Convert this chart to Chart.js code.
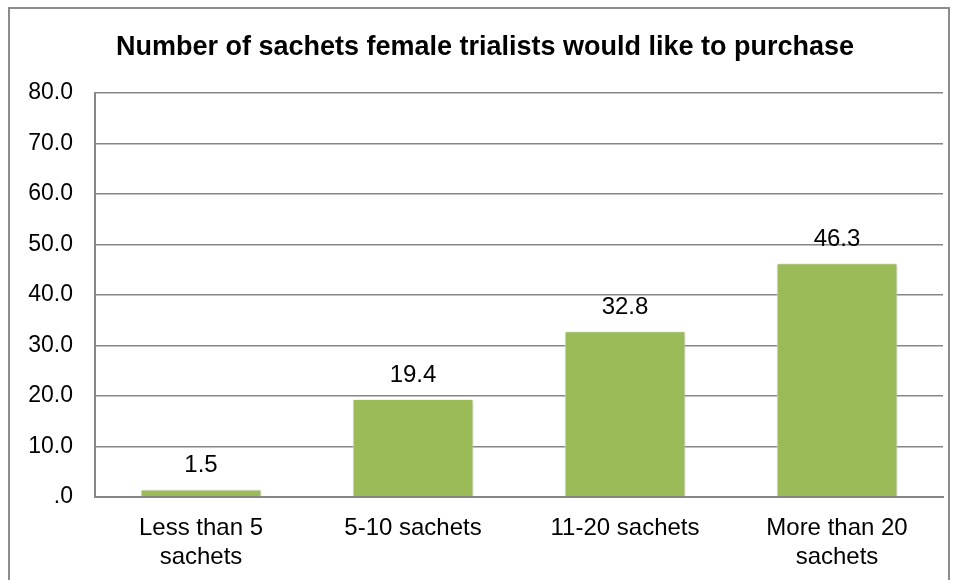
<!DOCTYPE html>
<html>
<head>
<meta charset="utf-8">
<script src="https://cdn.jsdelivr.net/npm/chart.js@4"></script>
<style>
  body { margin: 0; background: #fff; }
  #wrap { width: 958px; height: 580px; }
</style>
</head>
<body>
<div id="wrap"><canvas id="bar-chart" width="958" height="580"></canvas></div>
<script>
var chartTitle = 'Number of sachets female trialists would like to purchase';
var categories = [['Less than 5', 'sachets'], '5-10 sachets', '11-20 sachets', ['More than 20', 'sachets']];
var values = [1.5, 19.4, 32.8, 46.3];
var yTicks = [0, 10, 20, 30, 40, 50, 60, 70, 80];

var fontName = '"Liberation Sans", Arial, sans-serif';

// outer frame, title, bar shadow and value labels
var framePlugin = {
  id: 'frame',
  beforeDraw: function (chart) {
    var ctx = chart.ctx;
    ctx.save();
    ctx.strokeStyle = '#8c8c8c';
    ctx.lineWidth = 2;
    ctx.strokeRect(9, 8, 940, 600);
    ctx.fillStyle = '#000';
    ctx.font = 'bold 27px ' + fontName;
    ctx.textAlign = 'center';
    ctx.textBaseline = 'middle';
    ctx.fillText(chartTitle, 485, 48);
    ctx.restore();
  },
  beforeDatasetsDraw: function (chart) {
    var ctx = chart.ctx;
    ctx.save();
    ctx.shadowColor = 'rgba(0, 0, 0, 0.25)';
    ctx.shadowBlur = 4;
    ctx.shadowOffsetX = 1;
    ctx.shadowOffsetY = 1;
  },
  afterDatasetsDraw: function (chart) {
    var ctx = chart.ctx;
    ctx.restore();
    var meta = chart.getDatasetMeta(0);
    ctx.save();
    ctx.fillStyle = '#000';
    ctx.font = '24px ' + fontName;
    ctx.textAlign = 'center';
    ctx.textBaseline = 'middle';
    meta.data.forEach(function (bar, i) {
      ctx.fillText(values[i].toFixed(1), bar.x, bar.y - 24);
    });
    ctx.restore();
  }
};

var chartContext = document.getElementById('bar-chart').getContext('2d');

new Chart(chartContext, {
  type: 'bar',
  data: {
    labels: categories,
    datasets: [{
      label: 'Data',
      data: values,
      backgroundColor: '#9bbb59',
      borderColor: '#ffffff',
      borderWidth: 1
    }]
  },
  options: {
    responsive: false,
    animation: false,
    layout: { padding: { left: 0, right: 15, top: 93, bottom: 0 } },
    plugins: {
      legend: { display: false },
      tooltip: { enabled: false },
      title: { display: false }
    },
    datasets: {
      bar: { categoryPercentage: 1, barPercentage: 0.57 }
    },
    scales: {
      x: {
        afterFit: function (axis) { axis.height = 83; },
        grid: { display: false, drawTicks: false },
        border: { color: '#868686', width: 2 },
        ticks: {
          color: '#000',
          padding: 17,
          font: { family: fontName, size: 24 },
          maxRotation: 0
        }
      },
      y: {
        min: 0,
        max: 80,
        afterFit: function (axis) { axis.width = 95; },
        afterBuildTicks: function (axis) {
          axis.ticks = yTicks.map(function (v) { return { value: v }; });
        },
        grid: { color: '#868686', lineWidth: 1.5, drawTicks: false },
        border: { color: '#868686', width: 2 },
        ticks: {
          color: '#000',
          padding: 22,
          font: { family: fontName, size: 23 },
          callback: function (v) { return v === 0 ? '.0' : v.toFixed(1); }
        }
      }
    }
  },
  plugins: [framePlugin]
});
</script>
</body>
</html>
